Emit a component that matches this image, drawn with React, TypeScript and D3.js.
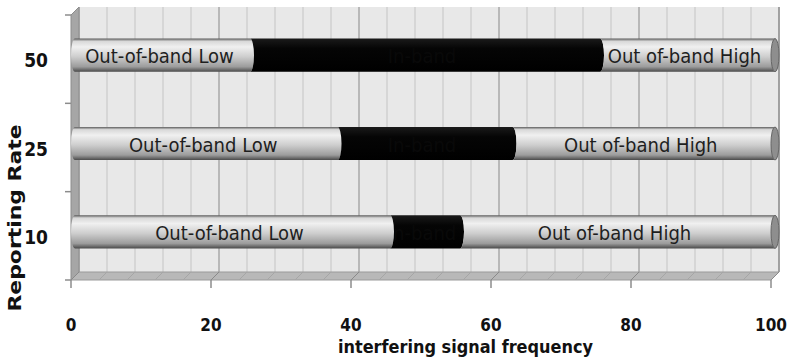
import React from "react";
import * as d3 from "d3";

// Reporting rates (bottom to top) and the frequency split of each bar
const rates = ["10", "25", "50"];
const lowBand = [45, 37.5, 25];
const inBand = [10, 25, 50];
const highBand = [45, 37.5, 25];
const segmentLabels = ["Out-of-band Low", "In-band", "Out of-band High"];
const xTicks = [0, 20, 40, 60, 80, 100];
const gridSteps = d3.range(0, 101, 4);

const W = 789;
const H = 360;
const DX = 8; // depth offset of the back wall
const DY = 8;

export default function App() {
  const xFront = d3.scaleLinear().domain([0, 100]).range([71, 771]);
  const xBack = (v: number) => xFront(v) + DX;
  const xBar = (v: number) => xFront(v) + DX / 2;
  const y = d3.scaleBand<string>().domain([...rates].reverse()).range([15, 280]);
  const floorY = y.range()[1];
  const topY = y.range()[0] - DY;
  const barH = y.bandwidth() * 0.375;
  const rx = 4;

  const stack = rates.map((r, i) => {
    const vals = [lowBand[i], inBand[i], highBand[i]];
    let acc = 0;
    return vals.map((v, k) => {
      const s = { rate: r, k, x0: acc, x1: acc + v };
      acc += v;
      return s;
    });
  });

  const segPath = (x0: number, x1: number, top: number, bot: number, first: boolean) => {
    const ry = (bot - top) / 2;
    return `M${x0},${top} L${x1},${top} A${rx},${ry} 0 0 1 ${x1},${bot} L${x0},${bot} A${rx},${ry} 0 0 ${first ? 1 : 0} ${x0},${top} Z`;
  };

  const font = "'Liberation Sans Narrow', 'DejaVu Sans Condensed', 'Liberation Sans', sans-serif";

  return (
    <svg width={W} height={H} style={{ position: "absolute", left: 0, top: 0, background: "#fff" }}>
      <defs>
        <linearGradient id="gray" x1="0" y1="0" x2="0" y2="1">
          <stop offset="0" stopColor="#5a5a5a" />
          <stop offset="0.08" stopColor="#d8d8d8" />
          <stop offset="0.25" stopColor="#f0f0f0" />
          <stop offset="0.55" stopColor="#cdcdcd" />
          <stop offset="0.85" stopColor="#9c9c9c" />
          <stop offset="1" stopColor="#4a4a4a" />
        </linearGradient>
        <linearGradient id="dark" x1="0" y1="0" x2="0" y2="1">
          <stop offset="0" stopColor="#1a1a1a" />
          <stop offset="0.3" stopColor="#050505" />
          <stop offset="1" stopColor="#000" />
        </linearGradient>
        {stack.map((segs) => {
          const s = segs[1];
          const cy = (y(s.rate) as number) + y.bandwidth() / 2 - 4;
          return (
            <clipPath key={`c${s.rate}`} id={`clip-${s.rate}`}>
              <path d={segPath(xBar(s.x0), xBar(s.x1), cy - barH / 2, cy + barH / 2, false)} />
            </clipPath>
          );
        })}
      </defs>

      {/* back wall */}
      <rect x={xBack(0)} y={topY} width={xBack(100) - xBack(0)} height={floorY - DY - topY} fill="#e8e8e8" />
      {gridSteps.map((v) => (
        <line
          key={`g${v}`}
          x1={xBack(v)}
          x2={xBack(v)}
          y1={topY}
          y2={floorY - DY}
          stroke={v % 20 === 0 ? "#a8a8a8" : "#c4c4c4"}
          strokeWidth={v % 20 === 0 ? 1.5 : 1}
        />
      ))}
      <line x1={xBack(100)} x2={xBack(100)} y1={topY} y2={floorY - DY} stroke="#999" strokeWidth={1.5} />

      {/* left side wall */}
      <path
        d={`M${xFront(0)},${topY + DY} L${xBack(0)},${topY} L${xBack(0)},${floorY - DY} L${xFront(0)},${floorY} Z`}
        fill="#a6a6a6"
        stroke="#8c8c8c"
      />

      {/* floor */}
      <path
        d={`M${xBack(0)},${floorY - DY} L${xBack(100)},${floorY - DY} L${xFront(100)},${floorY} L${xFront(0)},${floorY} Z`}
        fill="#b8b8b8"
        stroke="#9a9a9a"
      />
      {gridSteps.map((v) => (
        <line
          key={`f${v}`}
          x1={xBack(v)}
          y1={floorY - DY}
          x2={xFront(v)}
          y2={floorY}
          stroke={v % 20 === 0 ? "#8a8a8a" : "#a6a6a6"}
        />
      ))}

      {/* category ticks */}
      {[...y.domain().map((d) => y(d) as number), floorY].map((t, i) => (
        <line key={`yt${i}`} x1={xFront(0) - 6} x2={xFront(0)} y1={t} y2={t} stroke="#8c8c8c" strokeWidth={1.5} />
      ))}

      {/* value ticks */}
      {xTicks.map((t) => (
        <line key={`xt${t}`} x1={xFront(t)} x2={xFront(t)} y1={floorY} y2={floorY + 8} stroke="#8c8c8c" strokeWidth={1.5} />
      ))}

      {/* cylinders */}
      {stack.map((segs) =>
        segs.map((s) => {
          const cy = (y(s.rate) as number) + y.bandwidth() / 2 - 4;
          const top = cy - barH / 2;
          const bot = cy + barH / 2;
          const a = xBar(s.x0);
          const b = xBar(s.x1);
          const isDark = s.k === 1;
          return (
            <g key={`${s.rate}-${s.k}`}>
              <path d={segPath(a, b, top, bot, s.k === 0)} fill={isDark ? "url(#dark)" : "url(#gray)"} />
              {s.k === 2 && (
                <ellipse cx={b} cy={cy} rx={rx} ry={barH / 2} fill="#8e8e8e" stroke="#666" strokeWidth={1} />
              )}
              <text
                x={(a + b) / 2 - 3}
                y={cy + 8}
                textAnchor="middle"
                fontFamily="'Liberation Sans Narrow', 'DejaVu Sans Condensed', sans-serif"
                fontSize={20}
                fill={isDark ? "#090909" : "#1e1e1e"}
                clipPath={isDark ? `url(#clip-${s.rate})` : undefined}
              >
                {segmentLabels[s.k]}
              </text>
            </g>
          );
        })
      )}

      {/* category labels */}
      {rates.map((r) => (
        <text
          key={`yl${r}`}
          x={48}
          y={(y(r) as number) + y.bandwidth() / 2 + 8}
          textAnchor="end"
          fontFamily={font}
          fontWeight="bold"
          fontSize={19}
          fill="#111"
        >
          {r}
        </text>
      ))}

      {/* value labels */}
      {xTicks.map((t) => (
        <text
          key={`xl${t}`}
          x={xFront(t)}
          y={331}
          textAnchor="middle"
          fontFamily={font}
          fontWeight="bold"
          fontSize={17}
          fill="#111"
        >
          {t}
        </text>
      ))}

      {/* axis titles */}
      <text
        x={338}
        y={353}
        textLength={255}
        lengthAdjust="spacingAndGlyphs"
        fontFamily={font}
        fontWeight="bold"
        fontSize={18}
        fill="#111"
      >
        interfering signal frequency
      </text>
      <text
        transform="translate(21,218) rotate(-90)"
        textAnchor="middle"
        textLength={187}
        lengthAdjust="spacingAndGlyphs"
        fontFamily="'DejaVu Sans', sans-serif"
        fontWeight="bold"
        fontSize={17}
        fill="#111"
      >
        Reporting Rate
      </text>
    </svg>
  );
}
